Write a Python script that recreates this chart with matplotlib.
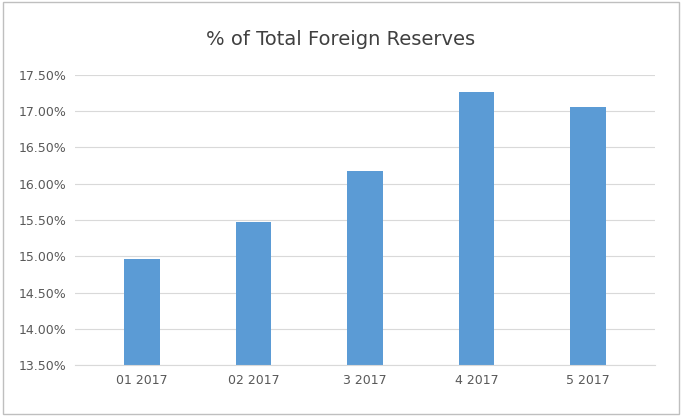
import matplotlib
matplotlib.use("Agg")
import matplotlib.pyplot as plt
from matplotlib.ticker import FuncFormatter, MultipleLocator

categories = ["01 2017", "02 2017", "3 2017", "4 2017", "5 2017"]
values = [14.97, 15.47, 16.18, 17.27, 17.06]

fig = plt.figure(figsize=(6.82, 4.16), dpi=100)
fig.patch.set_facecolor("white")
ax = fig.add_axes([0.11, 0.122, 0.85, 0.698])
ax.bar(categories, values, width=0.32, color="#5B9BD5")
ax.set_ylim(13.5, 17.5)
ax.yaxis.set_major_locator(MultipleLocator(0.5))
ax.yaxis.set_major_formatter(FuncFormatter(lambda v, p: f"{v:.2f}%"))
ax.grid(axis="y", color="#D9D9D9", linewidth=0.8)
ax.set_axisbelow(True)
for s in ["top", "right", "left"]:
    ax.spines[s].set_visible(False)
ax.spines["bottom"].set_color("#D9D9D9")
ax.tick_params(length=0, labelsize=9, colors="#595959", pad=6)
ax.set_xlim(-0.6, 4.6)
fig.text(0.5, 0.905, "% of Total Foreign Reserves", ha="center", va="center", fontsize=14, color="#404040")
fig.add_artist(plt.Rectangle((0.004, 0.005), 0.992, 0.99, transform=fig.transFigure, fill=False, edgecolor="#BFBFBF", linewidth=1))
fig.savefig("out.png", dpi=100)
